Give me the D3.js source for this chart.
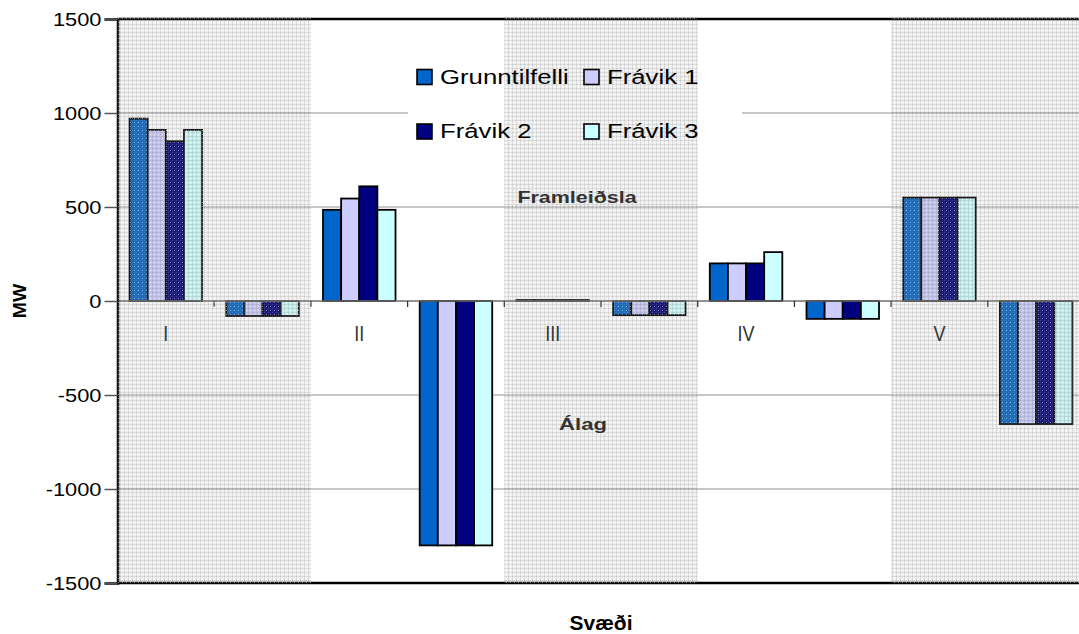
<!DOCTYPE html>
<html>
<head>
<meta charset="utf-8">
<script src="https://cdn.jsdelivr.net/npm/d3@7"></script>
<style>
  html, body { margin: 0; padding: 0; background: #fff; }
  svg { display: block; font-family: Arial, "Liberation Sans", sans-serif; }
</style>
</head>
<body>
<svg id="chart" width="1079" height="634"></svg>
<script>
// Regions and the two columns per region (production / load)
const regions = ["I", "II", "III", "IV", "V"];
const categories = ["I-F", "I-A", "II-F", "II-A", "III-F", "III-A", "IV-F", "IV-A", "V-F", "V-A"];
const categoryLabels = ["I", "", "II", "", "III", "", "IV", "", "V", ""];
const shadedRegions = ["I", "III", "V"];

// Series values in MW
const seriesNames = ["Grunntilfelli", "Frávik 1", "Frávik 2", "Frávik 3"];
const grunntilfelli = [970, -80, 485, -1300, 5, -75, 200, -95, 550, -655];
const fravik1 = [910, -80, 545, -1300, 5, -75, 200, -95, 550, -655];
const fravik2 = [850, -80, 610, -1300, 5, -75, 200, -95, 550, -655];
const fravik3 = [910, -80, 485, -1300, 5, -75, 260, -95, 550, -655];
const seriesColors = ["#0066CC", "#CCCCFF", "#000080", "#CCFFFF"];

const yTicks = [-1500, -1000, -500, 0, 500, 1000, 1500];
const yTickLabels = ["-1500", "-1000", "-500", "0", "500", "1000", "1500"];

const svg = d3.select("#chart");
const plot = { left: 117.5, right: 1084.5, top: 19, bottom: 583 };

const x = d3.scaleBand()
  .domain(categories)
  .range([plot.left, plot.right])
  .paddingInner(0.25)
  .paddingOuter(0.125);

const xs = d3.scaleBand()
  .domain(seriesNames)
  .range([0, x.bandwidth()]);

const y = d3.scaleLinear().domain([-1500, 1500]).range([plot.bottom, plot.top]);

const step = x.step();
const catStart = c => x(c) - step * 0.125;

// Stretched text helper
function label(g, tx, ty, text, opts) {
  return g.append("text")
    .attr("transform", `translate(${tx},${ty}) scale(${opts.sx || 1},1)`)
    .attr("text-anchor", opts.anchor || "start")
    .attr("font-size", opts.size)
    .attr("font-weight", opts.weight || "normal")
    .attr("fill", opts.fill || "#000")
    .text(text);
}

// Dotted texture for the shaded regions
const defs = svg.append("defs");
const pat = defs.append("pattern")
  .attr("id", "dots")
  .attr("patternUnits", "userSpaceOnUse")
  .attr("width", 4).attr("height", 4);
pat.append("rect").attr("width", 4).attr("height", 4).attr("fill", "rgba(150,150,150,0.13)");
pat.append("rect").attr("x", 0).attr("y", 0).attr("width", 4).attr("height", 1).attr("fill", "rgba(120,120,120,0.18)");
pat.append("rect").attr("x", 0).attr("y", 0).attr("width", 1).attr("height", 4).attr("fill", "rgba(120,120,120,0.18)");
pat.append("rect").attr("x", 2).attr("y", 2).attr("width", 1).attr("height", 1).attr("fill", "rgba(255,255,255,0.55)");

// Legend box hides the gridlines behind it
const legendBox = { x: 408, y: 50, w: 334, h: 108 };
const mask = defs.append("mask").attr("id", "gridMask");
mask.append("rect").attr("x", 0).attr("y", 0).attr("width", 1079).attr("height", 634).attr("fill", "#fff");
mask.append("rect").attr("x", legendBox.x).attr("y", legendBox.y)
  .attr("width", legendBox.w).attr("height", legendBox.h).attr("fill", "#000");

// Gridlines
svg.append("g").attr("mask", "url(#gridMask)")
  .selectAll("line")
  .data(yTicks.filter(v => v !== 0 && Math.abs(v) !== 1500))
  .join("line")
  .attr("x1", plot.left).attr("x2", plot.right)
  .attr("y1", d => y(d)).attr("y2", d => y(d))
  .attr("stroke", "#b4b4b4").attr("stroke-width", 1.6);

// Bars
const rows = categories.map((c, i) => ({
  cat: c,
  values: [grunntilfelli[i], fravik1[i], fravik2[i], fravik3[i]]
}));

const barG = svg.append("g");
rows.forEach(r => {
  barG.append("g")
    .selectAll("rect")
    .data(r.values.map((v, k) => ({ v, k })))
    .join("rect")
    .attr("x", d => x(r.cat) + xs(seriesNames[d.k]))
    .attr("width", xs.bandwidth())
    .attr("y", d => Math.min(y(d.v), y(0)))
    .attr("height", d => Math.abs(y(d.v) - y(0)))
    .attr("fill", d => seriesColors[d.k])
    .attr("stroke", "#000")
    .attr("stroke-width", 1.8);
});

// Zero line with category ticks
svg.append("line")
  .attr("x1", plot.left).attr("x2", plot.right)
  .attr("y1", y(0)).attr("y2", y(0))
  .attr("stroke", "#6e6e6e").attr("stroke-width", 1.6);
const boundaries = categories.slice(1).map(c => catStart(c))
  .concat([catStart(categories[categories.length - 1]) + step]);
svg.append("g").selectAll("line")
  .data(boundaries)
  .join("line")
  .attr("x1", d => d).attr("x2", d => d)
  .attr("y1", y(0)).attr("y2", y(0) + 6)
  .attr("stroke", "#333").attr("stroke-width", 1.3);

// Frame: top and bottom borders, left axis
svg.append("line").attr("x1", plot.left).attr("x2", plot.right)
  .attr("y1", plot.top).attr("y2", plot.top).attr("stroke", "#000").attr("stroke-width", 2.5);
svg.append("line").attr("x1", plot.left).attr("x2", plot.right)
  .attr("y1", plot.bottom).attr("y2", plot.bottom).attr("stroke", "#000").attr("stroke-width", 2.5);

const yAxis = svg.append("g")
  .attr("transform", `translate(${plot.left},0)`)
  .call(d3.axisLeft(y).tickValues(yTicks).tickSize(13).tickFormat(""));
yAxis.select(".domain").attr("stroke", "#000").attr("stroke-width", 2.5);
yAxis.selectAll(".tick line").attr("stroke", "#555").attr("stroke-width", 1.5);

// Y tick labels
const tickG = svg.append("g");
yTicks.forEach((v, i) => {
  label(tickG, 101.5, y(v) + 6.5, yTickLabels[i], { size: 18.5, sx: 1.18, anchor: "end" });
});

// Shaded region overlay (over bars and gridlines)
svg.append("g").selectAll("rect")
  .data(shadedRegions)
  .join("rect")
  .attr("x", d => catStart(d + "-F"))
  .attr("width", step * 2)
  .attr("y", plot.top - 1.5)
  .attr("height", plot.bottom - plot.top + 1.5)
  .attr("fill", "url(#dots)");

// Category labels
const catG = svg.append("g");
categories.forEach((c, i) => {
  if (categoryLabels[i]) {
    label(catG, x(c) + x.bandwidth() / 2, 341, categoryLabels[i], { size: 22, sx: 0.82, anchor: "middle", fill: "#333" });
  }
});

// Annotations
label(svg, 577, 203, "Framleiðsla", { size: 16, sx: 1.34, anchor: "middle", weight: "bold", fill: "#333" });
label(svg, 583, 430, "Álag", { size: 16, sx: 1.38, anchor: "middle", weight: "bold", fill: "#333" });

// Axis titles
label(svg, (plot.left + plot.right) / 2, 630, "Svæði", { size: 20, sx: 1.05, anchor: "middle", weight: "bold" });
svg.append("text")
  .attr("transform", `translate(26,${y(0)}) rotate(-90) scale(1.05,1)`)
  .attr("text-anchor", "middle")
  .attr("font-size", 18.5).attr("font-weight", "bold")
  .text("MW");

// Legend
const legendItems = [
  { name: seriesNames[0], color: seriesColors[0], lx: 417, ly: 77 },
  { name: seriesNames[1], color: seriesColors[1], lx: 584, ly: 77 },
  { name: seriesNames[2], color: seriesColors[2], lx: 417, ly: 131.5 },
  { name: seriesNames[3], color: seriesColors[3], lx: 584, ly: 131.5 }
];
const lg = svg.append("g");
legendItems.forEach(it => {
  lg.append("rect")
    .attr("x", it.lx).attr("y", it.ly - 7.5)
    .attr("width", 15).attr("height", 15)
    .attr("fill", it.color).attr("stroke", "#000").attr("stroke-width", 1.6);
  label(lg, it.lx + 23, it.ly + 6.5, it.name, { size: 19.5, sx: 1.32 });
});
</script>
</body>
</html>
